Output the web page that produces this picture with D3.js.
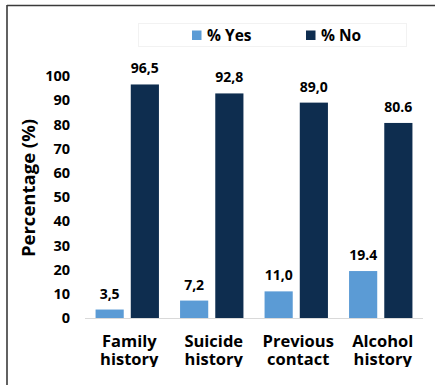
<!DOCTYPE html>
<html>
<head>
<meta charset="utf-8">
<script src="https://cdn.jsdelivr.net/npm/d3@7"></script>
<style>
  html, body { margin: 0; padding: 0; background: #fff; }
  svg { display: block; }
  text { font-family: "Open Sans", Lato, sans-serif; font-weight: 700; fill: #000; }
</style>
</head>
<body>
<svg id="chart" width="435" height="385"></svg>
<script>
// Risk factors: share of respondents answering yes / no
const categories = [["Family", "history"], ["Suicide", "history"], ["Previous", "contact"], ["Alcohol", "history"]];
const seriesNames = ["% Yes", "% No"];
const yesValues = [3.5, 7.2, 11.0, 19.4];
const noValues = [96.5, 92.8, 89.0, 80.6];
const yesLabels = ["3,5", "7,2", "11,0", "19.4"];
const noLabels = ["96,5", "92,8", "89,0", "80.6"];
const yTicks = [0, 10, 20, 30, 40, 50, 60, 70, 80, 90, 100];

const colors = ["#5b9bd5", "#0e2d4f"];
const FONT = "'Open Sans', Lato, sans-serif";

const svg = d3.select("#chart");
const W = 435, H = 385;
const plot = { left: 85, right: 423, top: 76, bottom: 318 };

// frame lines (left and top)
svg.append("line").attr("x1", 7).attr("x2", 7).attr("y1", 5).attr("y2", H)
  .attr("stroke", "#3a3a3a").attr("stroke-width", 1.6);
svg.append("line").attr("x1", 7).attr("x2", W).attr("y1", 5.5).attr("y2", 5.5)
  .attr("stroke", "#3a3a3a").attr("stroke-width", 1.6);

const keys = categories.map(c => c.join(" "));
const rows = keys.map((k, i) => ({ key: k, lines: categories[i],
  vals: [
    { s: 0, v: yesValues[i], label: yesLabels[i] },
    { s: 1, v: noValues[i], label: noLabels[i] }
  ] }));

const x = d3.scaleBand().domain(keys).range([plot.left, plot.right]).padding(0);
const xi = d3.scaleBand().domain([0, 1]).range([0, x.bandwidth()])
  .paddingInner(0.2).paddingOuter(0.3);
const y = d3.scaleLinear().domain([0, 100]).range([plot.bottom, plot.top]);

// y axis: labels only
const yAxis = d3.axisLeft(y).tickValues(yTicks).tickSize(0).tickPadding(0);
const gy = svg.append("g").attr("transform", "translate(70,0)").call(yAxis);
gy.select(".domain").remove();
gy.selectAll("text").style("font-family", FONT)
  .style("font-weight", 700).style("font-size", "14.5px").attr("fill", "#000");

// bars
const groups = svg.append("g").selectAll("g").data(rows).join("g")
  .attr("transform", d => `translate(${x(d.key)},0)`);
groups.selectAll("rect").data(d => d.vals).join("rect")
  .attr("x", d => xi(d.s)).attr("width", xi.bandwidth())
  .attr("y", d => y(d.v)).attr("height", d => y(0) - y(d.v))
  .attr("fill", d => colors[d.s]);

// value labels
groups.selectAll("text.val").data(d => d.vals).join("text")
  .attr("class", "val")
  .attr("x", d => xi(d.s) + xi.bandwidth() / 2)
  .attr("y", d => y(d.v) - 11)
  .attr("text-anchor", "middle").style("font-size", "14px")
  .text(d => d.label);

// x axis baseline
svg.append("line").attr("x1", plot.left).attr("x2", plot.right)
  .attr("y1", y(0) + 0.5).attr("y2", y(0) + 0.5)
  .attr("stroke", "#d9d9d9").attr("stroke-width", 1);

// category labels (two lines each), clipped at the lower edge of the frame area
svg.append("clipPath").attr("id", "catclip").append("rect")
  .attr("x", 0).attr("y", 0).attr("width", W).attr("height", 367);
const cat = svg.append("g").attr("clip-path", "url(#catclip)");
rows.forEach(r => {
  const cx = x(r.key) + x.bandwidth() / 2 + 2;
  r.lines.forEach((ln, j) => {
    cat.append("text").attr("text-anchor", "middle")
      .attr("x", cx).attr("y", 347 + j * 17.5)
      .style("font-size", "16.5px").text(ln);
  });
});

// y axis title
svg.append("text").attr("transform", `translate(35,188) rotate(-90)`)
  .attr("text-anchor", "middle").style("font-size", "18.5px")
  .text("Percentage (%)");

// legend
const leg = svg.append("g");
leg.append("rect").attr("x", 138.5).attr("y", 23.5).attr("width", 268).attr("height", 23)
  .attr("fill", "none").attr("stroke", "#f2f2f2");
const legX = [192, 306];
seriesNames.forEach((n, i) => {
  leg.append("rect").attr("x", legX[i]).attr("y", 30.5).attr("width", 9.5).attr("height", 9.5)
    .attr("fill", colors[i]);
  leg.append("text").attr("x", legX[i] + 15).attr("y", 41).style("font-size", "15.5px").text(n);
});
</script>
</body>
</html>
